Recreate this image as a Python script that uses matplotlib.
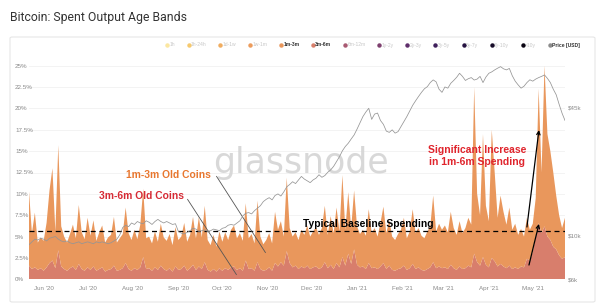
import matplotlib
matplotlib.use('Agg')
import matplotlib.pyplot as plt
from matplotlib.lines import Line2D
from matplotlib.patches import FancyBboxPatch
from matplotlib.ticker import NullLocator
import numpy as np
import pandas as pd

plt.rcParams['font.family'] = ['Liberation Sans', 'DejaVu Sans']

# 数据：每两天一个点，2020-05-22 起
dates = pd.date_range('2020-05-22', periods=184, freq='2D')

band_1m_3m = [
    8.7, 4.2, 6.4, 3.2, 3.6, 3.5, 5.2, 8.5, 10.8, 4.3,
    12.3, 4.7, 3.8, 3.3, 4.0, 4.9, 3.7, 6.9, 4.3, 3.7,
    5.8, 4.0, 5.4, 3.5, 4.3, 4.9, 3.4, 3.8, 4.0, 5.7,
    3.3, 3.7, 4.0, 6.5, 4.2, 3.6, 4.5, 3.6, 5.0, 8.0,
    3.6, 3.7, 3.2, 4.2, 3.3, 4.9, 3.7, 3.5, 4.0, 3.1,
    4.6, 3.5, 3.8, 5.0, 3.4, 3.9, 5.6, 3.7, 5.8, 3.7,
    6.6, 3.5, 3.1, 4.0, 2.9, 4.3, 3.4, 4.2, 3.5, 4.4,
    4.8, 3.7, 4.1, 3.5, 6.7, 3.6, 4.0, 3.2, 7.2, 3.8,
    3.1, 3.5, 4.0, 3.2, 6.0, 4.3, 4.8, 3.4, 8.6, 4.1,
    3.6, 3.9, 3.4, 4.3, 3.9, 4.7, 3.8, 4.2, 4.6, 4.0,
    4.6, 6.6, 3.9, 5.7, 4.2, 6.5, 4.2, 9.6, 4.2, 7.2,
    4.2, 6.9, 4.5, 3.9, 4.3, 3.9, 6.3, 4.1, 4.6, 3.8,
    5.1, 6.6, 4.2, 5.3, 3.9, 3.6, 4.1, 4.5, 5.6, 3.7,
    4.3, 6.4, 4.2, 4.6, 4.0, 3.8, 4.4, 4.8, 7.8, 4.3,
    5.0, 4.5, 4.9, 4.3, 6.2, 4.7, 4.1, 5.3, 4.2, 4.7,
    5.6, 5.0, 19.5, 8.0, 5.9, 14.4, 6.9, 5.4, 15.0, 10.4,
    5.7, 8.0, 6.4, 5.1, 6.8, 4.6, 5.1, 4.0, 4.4, 3.6,
    4.8, 3.6, 3.3, 4.5, 15.7, 7.1, 18.8, 12.0, 10.4, 8.7,
    6.3, 4.7, 3.6, 4.6,
]

band_3m_6m = [
    1.6, 1.2, 1.4, 1.1, 1.3, 1.0, 1.4, 1.9, 2.2, 1.3,
    3.4, 1.5, 1.2, 1.0, 1.3, 1.5, 1.1, 1.8, 1.2, 1.0,
    1.4, 1.1, 1.5, 1.0, 1.2, 1.4, 0.9, 1.1, 1.2, 1.6,
    1.0, 1.1, 1.3, 1.9, 1.2, 1.0, 1.3, 1.1, 1.4, 2.6,
    1.2, 1.3, 1.0, 1.4, 1.1, 1.6, 1.2, 1.0, 1.3, 0.9,
    1.5, 1.1, 1.2, 1.6, 1.0, 1.3, 1.7, 1.1, 1.5, 1.2,
    2.0, 1.1, 0.9, 1.2, 0.9, 1.3, 1.0, 1.3, 1.1, 1.4,
    1.5, 1.1, 1.3, 1.0, 2.2, 1.2, 1.3, 1.0, 2.0, 1.2,
    1.0, 1.1, 1.4, 1.0, 1.9, 1.5, 2.0, 1.6, 3.3, 1.9,
    1.4, 1.6, 1.2, 1.5, 1.3, 1.6, 1.2, 1.4, 1.5, 1.2,
    1.4, 2.0, 1.3, 1.7, 1.2, 1.9, 1.4, 2.6, 1.6, 3.0,
    1.8, 3.5, 1.7, 1.4, 1.5, 1.2, 1.9, 1.3, 1.4, 1.2,
    1.5, 1.9, 1.2, 1.6, 1.1, 1.0, 1.2, 1.3, 1.6, 1.1,
    1.3, 1.8, 1.2, 1.4, 1.1, 1.0, 1.2, 1.4, 2.0, 1.3,
    1.5, 1.3, 1.4, 1.2, 1.7, 1.3, 1.1, 1.5, 1.2, 1.3,
    1.6, 1.4, 3.0, 2.0, 1.6, 2.6, 1.7, 1.4, 2.5, 2.1,
    1.5, 1.8, 1.5, 1.3, 1.6, 1.2, 1.4, 1.2, 1.5, 1.4,
    2.4, 2.2, 3.2, 5.0, 6.6, 5.4, 6.2, 5.0, 4.6, 3.8,
    3.5, 2.8, 2.4, 2.6,
]

# 价格（千美元）
price_k = [
    9.0, 9.3, 9.6, 9.5, 9.7, 9.6, 9.4, 9.7, 9.8, 9.9,
    9.6, 9.4, 9.3, 9.4, 9.2, 9.1, 9.2, 9.3, 9.1, 9.2,
    9.3, 9.2, 9.1, 9.3, 9.2, 9.3, 9.2, 9.1, 9.2, 9.4,
    9.6, 10.1, 11.0, 11.3, 11.1, 11.6, 11.4, 11.8, 11.6, 11.5,
    11.9, 11.7, 11.4, 11.8, 12.1, 11.8, 11.6, 11.8, 11.6, 11.4,
    11.5, 10.5, 10.3, 10.2, 10.4, 10.6, 10.9, 10.8, 10.5, 10.6,
    10.7, 10.5, 10.6, 10.8, 10.7, 10.6, 10.9, 11.0, 11.3, 11.4,
    11.3, 11.6, 11.9, 12.6, 13.0, 13.1, 12.9, 13.4, 13.8, 14.2,
    14.9, 15.3, 15.6, 15.2, 16.0, 16.3, 15.9, 16.7, 17.7, 18.2,
    18.8, 18.4, 19.2, 20.0, 19.4, 19.0, 18.6, 19.2, 19.6, 20.4,
    19.8, 20.2, 21.0, 21.6, 22.5, 23.8, 25.2, 27.0, 28.4, 29.5,
    31.0, 32.5, 34.8, 37.5, 40.3, 42.5, 44.4, 39.0, 41.5, 42.0,
    38.5, 36.8, 34.0, 33.5, 34.5, 33.2, 33.8, 35.8, 38.0, 40.3,
    43.0, 46.0, 48.5, 51.0, 53.5, 55.8, 57.2, 60.0, 61.9, 60.5,
    55.5, 53.5, 57.0, 56.2, 59.5, 61.5, 63.8, 66.9, 64.5, 61.5,
    62.8, 63.6, 61.8, 62.5, 64.5, 60.0, 64.0, 66.9, 68.0, 69.6,
    71.0, 72.3, 70.5, 69.6, 70.8, 65.0, 61.0, 58.4, 56.2, 57.5,
    60.0, 62.0, 61.0, 62.5, 63.6, 64.5, 65.6, 63.0, 60.0, 55.5,
    52.0, 46.5, 41.9, 38.5,
]

baseline_pct = 5.65

month_ticks = pd.date_range('2020-06-01', '2021-05-01', freq='MS')
month_labels = [d.strftime("%b '%y") for d in month_ticks]
pct_ticks = np.arange(0, 25.1, 2.5)
price_ticks = [6, 10, 45]
price_labels = ['$6k', '$10k', '$45k']

legend_names = ['1h', '1h-24h', '1d-1w', '1w-1m', '1m-3m', '3m-6m', '6m-12m',
                '1y-2y', '2y-3y', '3y-5y', '5y-7y', '7y-10y', '>10y', 'Price [USD]']
legend_colors = ['#fbe7a1', '#f6c96e', '#f0ad60', '#ec9c5c', '#e9975c', '#d9806c',
                 '#a85a72', '#7e406f', '#5f2e6b', '#40205c', '#261342', '#160b28',
                 '#0a0512', '#8c8c8c']
active = {'1m-3m', '3m-6m', 'Price [USD]'}

c_1m_3m = '#e9975c'
c_3m_6m = '#d87e6c'

fig = plt.figure(figsize=(6, 3.07), dpi=100)
fig.patch.set_facecolor('white')

# 面板边框
panel = FancyBboxPatch((10 / 600, 5 / 307), 585 / 600, 265 / 307,
                       boxstyle='round,pad=0,rounding_size=0.004',
                       transform=fig.transFigure, facecolor='white',
                       edgecolor='#e6e6e6', lw=0.8, zorder=-5)
fig.patches.append(panel)

fig.text(10 / 600, 1 - 18 / 307, 'Bitcoin: Spent Output Age Bands',
         fontsize=8.8, color='#333333', va='center',
         family=['Roboto', 'DejaVu Sans'])

ax = fig.add_axes([29 / 600, (307 - 279.3) / 307, 536 / 600, 213.6 / 307])
ax.set_facecolor('none')

ax.stackplot(dates, band_3m_6m, band_1m_3m, colors=[c_3m_6m, c_1m_3m],
             lw=0, zorder=2)

ax.set_xlim(dates[0], dates[-1])
ax.set_ylim(0, 25)
ax.set_yticks(pct_ticks)
ax.set_yticklabels([f'{v:g}%' for v in pct_ticks])
for lab in ax.get_yticklabels():
    lab.set_horizontalalignment('left')
ax.set_xticks(month_ticks)
ax.set_xticklabels(month_labels)
ax.tick_params(axis='y', length=0, labelsize=4.5, colors='#8a8a8a', pad=10)
ax.tick_params(axis='x', length=0, labelsize=4.5, colors='#8a8a8a', pad=4.5)
ax.yaxis.grid(True, color='#f1f1f1', lw=0.6)
ax.set_axisbelow(True)
for s in ax.spines.values():
    s.set_visible(False)

# 水印
ax.text(0.507, 0.545, 'glassnode', transform=ax.transAxes, fontsize=25,
        color='#d2d2d2', alpha=0.85, ha='center', va='center',
        family=['DejaVu Sans'], zorder=1)

# 基准线
ax.axhline(baseline_pct, color='black', lw=0.9, ls=(0, (4, 3)), zorder=4)

start = pd.Timestamp('2020-05-22')
def d(n):
    return start + pd.Timedelta(days=n)

ax.text(d(231.5), 6.45, 'Typical Baseline Spending', fontsize=7.4,
        fontweight='bold', color='black', ha='center', va='center', zorder=6)
ax.text(d(305.9), 14.44, 'Significant Increase\nin 1m-6m Spending',
        fontsize=7.5, fontweight='bold', color='#e0252d', ha='center',
        va='center', linespacing=1.2, zorder=6)
ax.text(d(94.9), 12.21, '1m-3m Old Coins', fontsize=7.4, fontweight='bold',
        color='#e8772f', ha='center', va='center', zorder=6)
ax.text(d(76.5), 9.75, '3m-6m Old Coins', fontsize=7.4, fontweight='bold',
        color='#d62b35', ha='center', va='center', zorder=6)

ax.annotate('', xy=(d(142.7), 0.27), xytext=(d(107.2), 9.64),
            arrowprops=dict(arrowstyle='-', color='#555555', lw=0.6), zorder=6)
ax.annotate('', xy=(d(162.5), 2.85), xytext=(d(127.0), 12.33),
            arrowprops=dict(arrowstyle='-', color='#555555', lw=0.6), zorder=6)
ax.annotate('', xy=(d(348.2), 17.47), xytext=(d(340.0), 6.12),
            arrowprops=dict(arrowstyle='->', color='black', lw=0.9,
                            mutation_scale=6, shrinkA=0, shrinkB=0), zorder=6)
ax.annotate('', xy=(d(348.2), 6.48), xytext=(d(341.4), 1.67),
            arrowprops=dict(arrowstyle='->', color='black', lw=0.9,
                            mutation_scale=6, shrinkA=0, shrinkB=0), zorder=6)

# 价格轴
ax2 = ax.twinx()
ax2.plot(dates, price_k, color='#959595', lw=0.55, zorder=3)
ax2.set_yscale('log')
ax2.set_ylim(6, 73.1)
ax2.yaxis.set_minor_locator(NullLocator())
ax2.set_yticks(price_ticks)
ax2.set_yticklabels(price_labels)
ax2.tick_params(axis='y', length=0, labelsize=4.5, colors='#8a8a8a', pad=2)
for s in ax2.spines.values():
    s.set_visible(False)

# 图例
handles = [Line2D([], [], marker='o', ls='', color=c, markersize=2.2)
           for c in legend_colors]
leg = fig.legend(handles, legend_names, ncol=14, loc='center right',
                 bbox_to_anchor=(580 / 600, 1 - 45 / 307), fontsize=3.6,
                 frameon=False, handletextpad=0.1, columnspacing=2.3,
                 handlelength=0.8, borderaxespad=0, borderpad=0)
for txt in leg.get_texts():
    if txt.get_text() in active:
        txt.set_color('#333333')
        txt.set_fontweight('bold')
    else:
        txt.set_color('#c8c8c8')

fig.savefig('out.png', dpi=100)
